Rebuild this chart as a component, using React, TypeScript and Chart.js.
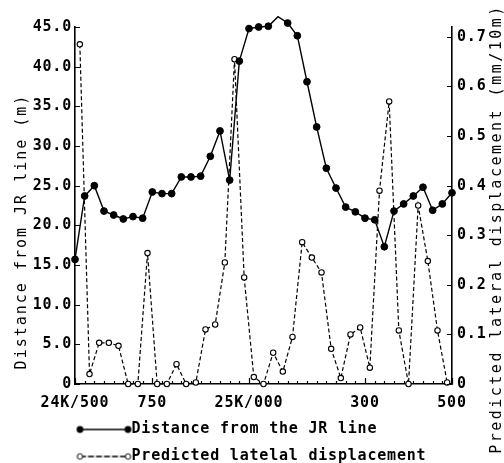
import React, { useEffect, useRef } from 'react';
import { Chart, registerables } from 'chart.js';

Chart.register(...registerables);

// Distance from the JR line (m), one value per station point (40 points)
const DISTANCE_JR: number[] = [
  15.7, 23.7, 25.0, 21.8, 21.3, 20.8, 21.1, 20.9, 24.2, 24.0,
  24.0, 26.1, 26.1, 26.2, 28.7, 31.9, 25.7, 40.7, 44.8, 45.0,
  45.1, 46.3, 45.5, 43.9, 38.1, 32.4, 27.2, 24.7, 22.3, 21.7,
  20.9, 20.7, 17.3, 21.8, 22.7, 23.7, 24.8, 21.9, 22.7, 24.1,
];

// Predicted lateral displacement (mm/10m), between station points (39 values)
const LATERAL_DISP: number[] = [
  0.685, 0.02, 0.083, 0.083, 0.077, 0.0, 0.0, 0.264, 0.0, 0.0,
  0.04, 0.0, 0.003, 0.11, 0.12, 0.245, 0.655, 0.215, 0.014, 0.0,
  0.063, 0.025, 0.095, 0.286, 0.255, 0.225, 0.071, 0.012, 0.1, 0.114,
  0.033, 0.39, 0.57, 0.108, 0.0, 0.36, 0.248, 0.108, 0.003,
];

const X_TICK_INDEX: number[] = [0, 8, 18, 30, 39];
const X_TICK_LABELS: string[] = ['24K/500', '750', '25K/000', '300', '500'];
const LEFT_TICKS: number[] = [0, 5, 10, 15, 20, 25, 30, 35, 40, 45];
const RIGHT_TICKS: number[] = [0, 0.1, 0.2, 0.3, 0.4, 0.5, 0.6, 0.7];

const LEFT_TITLE = 'Distance from JR line (m)';
const RIGHT_TITLE = 'Predicted lateral displacement (mm/10m)';
const LEGEND_LABELS: string[] = ['Distance from the JR line', 'Predicted latelal displacement'];

const FONT = "'DejaVu Sans Mono', monospace";

function makeLegendImage(filled: boolean, dashed: boolean): HTMLCanvasElement {
  const c = document.createElement('canvas');
  c.width = 64;
  c.height = 10;
  const g = c.getContext('2d')!;
  const x1 = 6.5;
  const x2 = 54.5;
  const y = 5;
  g.strokeStyle = '#000';
  g.lineWidth = 1.3;
  if (dashed) g.setLineDash([6, 2]);
  g.beginPath();
  g.moveTo(x1, y);
  g.lineTo(x2, y);
  g.stroke();
  g.setLineDash([]);
  [x1, x2].forEach((x) => {
    g.beginPath();
    g.arc(x, y, filled ? 3.4 : 2.7, 0, Math.PI * 2);
    if (filled) {
      g.fillStyle = '#000';
      g.fill();
    } else {
      g.fillStyle = '#fff';
      g.fill();
      g.lineWidth = 1;
      g.stroke();
    }
  });
  return c;
}

const styleTextPlugin = {
  id: 'styleText',
  beforeLayout(chart: any) {
    chart.ctx.letterSpacing = '0.8px';
  },
  beforeDraw(chart: any) {
    chart.ctx.letterSpacing = '0.8px';
    const ys = chart.scales.y;
    if (ys && !ys.__patched) {
      const orig = ys.drawTitle.bind(ys);
      ys.drawTitle = function () {
        const ctx = this.ctx;
        ctx.save();
        ctx.letterSpacing = '2px';
        ctx.translate(0, 26);
        orig();
        ctx.restore();
      };
      ys.__patched = true;
    }
  },
  afterDraw(chart: any) {
    const ctx = chart.ctx;
    const { chartArea } = chart;
    ctx.save();
    ctx.strokeStyle = '#000';
    ctx.lineWidth = 1.2;
    // inner tick marks
    const yl = chart.scales.y;
    const yr = chart.scales.y1;
    const xs = chart.scales.x;
    ctx.beginPath();
    LEFT_TICKS.forEach((v) => {
      const p = Math.round(yl.getPixelForValue(v)) + 0.5;
      ctx.moveTo(chartArea.left, p);
      ctx.lineTo(chartArea.left + 5, p);
    });
    RIGHT_TICKS.forEach((v) => {
      const p = Math.round(yr.getPixelForValue(v)) + 0.5;
      ctx.moveTo(chartArea.right, p);
      ctx.lineTo(chartArea.right - 5, p);
    });
    DISTANCE_JR.forEach((_, i) => {
      const p = Math.round(xs.getPixelForValue(i)) + 0.5;
      const len = X_TICK_INDEX.includes(i) ? 6 : 3;
      ctx.moveTo(p, chartArea.bottom);
      ctx.lineTo(p, chartArea.bottom - len);
    });
    ctx.stroke();
    // right axis title (reads bottom to top)
    ctx.fillStyle = '#000';
    ctx.font = `normal 15px ${FONT}`;
    ctx.letterSpacing = '2.5px';
    ctx.textAlign = 'center';
    ctx.textBaseline = 'middle';
    ctx.translate(497, 229);
    ctx.rotate(-Math.PI / 2);
    ctx.fillText(RIGHT_TITLE, 0, 0);
    ctx.restore();
  },
};

export default function App() {
  const canvasRef = useRef<HTMLCanvasElement | null>(null);

  useEffect(() => {
    const canvas = canvasRef.current;
    if (!canvas) return;
    const solidImg = makeLegendImage(true, false);
    const openImg = makeLegendImage(false, true);

    const chart = new Chart(canvas, {
      type: 'line',
      data: {
        datasets: [
          {
            label: LEGEND_LABELS[0],
            data: DISTANCE_JR.map((v, i) => ({ x: i, y: v })),
            yAxisID: 'y',
            borderColor: '#000',
            borderWidth: 1.4,
            backgroundColor: '#000',
            pointBackgroundColor: '#000',
            pointBorderColor: '#000',
            pointRadius: 3.4,
            pointBorderWidth: 1,
            tension: 0,
            clip: false as any,
          },
          {
            label: LEGEND_LABELS[1],
            data: LATERAL_DISP.map((v, i) => ({ x: i + 0.5, y: v })),
            yAxisID: 'y1',
            borderColor: '#000',
            borderWidth: 1.2,
            borderDash: [4, 2.5],
            backgroundColor: '#fff',
            pointBackgroundColor: '#fff',
            pointBorderColor: '#000',
            pointRadius: 2.7,
            pointBorderWidth: 1.1,
            tension: 0,
            clip: false as any,
          },
        ],
      },
      options: {
        animation: false,
        responsive: false,
        events: [],
        layout: { padding: { left: 0, right: 0, top: 27, bottom: -11 } },
        scales: {
          x: {
            type: 'linear',
            min: 0,
            max: DISTANCE_JR.length - 1,
            offset: false,
            grid: { display: false, drawTicks: false },
            border: { display: true, color: '#000', width: 1.6 },
            afterBuildTicks: (scale: any) => {
              scale.ticks = X_TICK_INDEX.map((v) => ({ value: v }));
            },
            afterFit: (scale: any) => {
              scale.height = 26;
            },
            ticks: {
              autoSkip: false,
              maxRotation: 0,
              padding: 10,
              color: '#000',
              font: { family: FONT, size: 15, weight: 'bold' },
              callback: (v: any) => {
                const k = X_TICK_INDEX.indexOf(Number(v));
                return k >= 0 ? X_TICK_LABELS[k] : '';
              },
            },
          },
          y: {
            type: 'linear',
            position: 'left',
            min: 0,
            max: 45,
            grid: { display: false, drawTicks: false },
            border: { display: true, color: '#000', width: 1.6 },
            afterBuildTicks: (scale: any) => {
              scale.ticks = LEFT_TICKS.map((v) => ({ value: v }));
            },
            afterFit: (scale: any) => {
              scale.width = 75;
            },
            ticks: {
              padding: 3,
              color: '#000',
              font: { family: FONT, size: 15, weight: 'bold' },
              callback: (v: any) => (Number(v) === 0 ? '0' : Number(v).toFixed(1)),
            },
            title: {
              display: true,
              text: LEFT_TITLE,
              color: '#000',
              padding: { top: 13, bottom: 0 },
              font: { family: FONT, size: 15, weight: 'normal' },
            },
          },
          y1: {
            type: 'linear',
            position: 'right',
            min: 0,
            max: 0.72,
            grid: { display: false, drawTicks: false },
            border: { display: true, color: '#000', width: 1.6 },
            afterBuildTicks: (scale: any) => {
              scale.ticks = RIGHT_TICKS.map((v) => ({ value: v }));
            },
            afterFit: (scale: any) => {
              scale.width = 52;
            },
            ticks: {
              padding: 5,
              color: '#000',
              font: { family: FONT, size: 15, weight: 'bold' },
              callback: (v: any) => (Number(v) === 0 ? '0' : Number(v).toFixed(1)),
            },
          },
        },
        plugins: {
          tooltip: { enabled: false },
          legend: {
            display: true,
            position: 'bottom',
            align: 'start',
            fullSize: false,
            labels: {
              usePointStyle: true,
              pointStyleWidth: 37,
              padding: 12,
              color: '#000',
              font: { family: FONT, size: 15, weight: 'bold' },
              generateLabels: (ch: any) =>
                ch.data.datasets.map((ds: any, i: number) => ({
                  text: ds.label,
                  pointStyle: i === 0 ? solidImg : openImg,
                  datasetIndex: i,
                  hidden: false,
                  lineWidth: 0,
                  fillStyle: '#000',
                  strokeStyle: '#000',
                  fontColor: '#000',
                })),
            },
          },
        },
      },
      plugins: [styleTextPlugin],
    });
    return () => chart.destroy();
  }, []);

  return (
    <div style={{ position: 'absolute', left: 0, top: 0, width: 504, height: 463 }}>
      <canvas ref={canvasRef} width={504} height={463} style={{ display: 'block' }} />
    </div>
  );
}
